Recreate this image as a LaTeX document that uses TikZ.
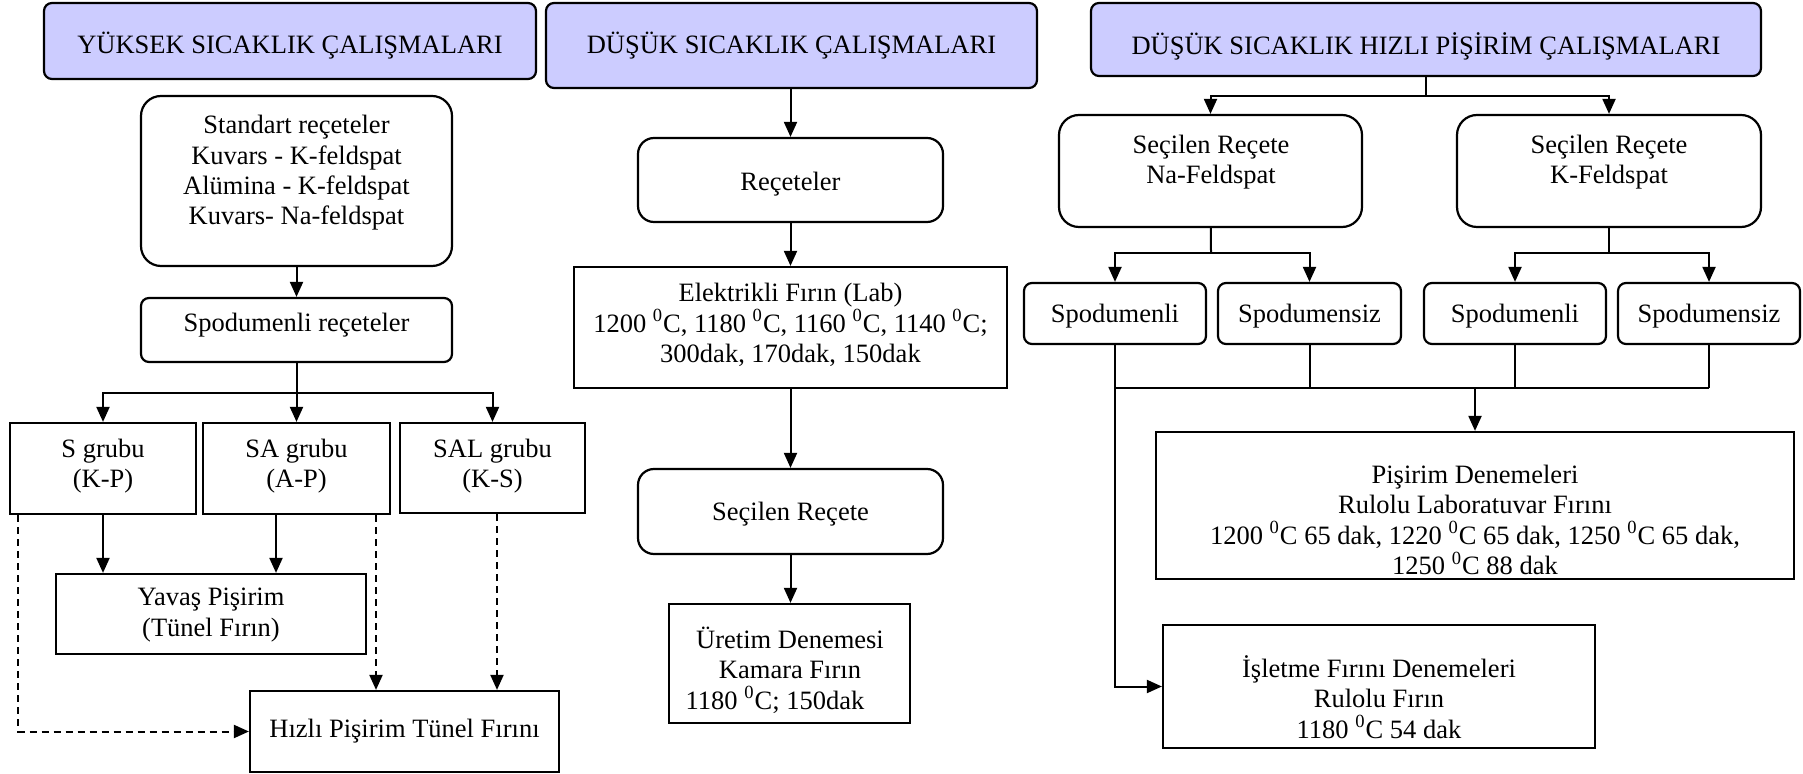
\documentclass[tikz,border=0pt]{standalone}
\usepackage{fontspec}
\setmainfont{Liberation Serif}
\usetikzlibrary{arrows.meta}
\definecolor{hfill}{RGB}{204,204,255}
\tikzset{
  bx/.style={draw, line width=1.1pt, inner sep=0pt},
  hdr/.style={bx, fill=hfill, rounded corners=4pt},
  rbx/.style={bx, rounded corners=#1},
  rbx/.default=8pt,
  txt/.style={inner sep=0pt, align=center, font=\fontsize{13.25}{15.2}\selectfont},
  ln/.style={line width=1pt},
  arr/.style={ln, -{Triangle[width=6.5pt,length=7.5pt]}},
  darr/.style={arr, dash pattern=on 3.5pt off 2.5pt},
}
\newcommand\mkbox[6]{\node[#2, minimum width={(#5-#3)*0.5pt}, minimum height={(#6-#4)*0.5pt}] (#1) at ({(#3+#5)/2},{(#4+#6)/2}) {};}
\newcommand\dg{\textsuperscript{0}}
\begin{document}
\begin{tikzpicture}[x=0.5pt,y=-0.5pt]
\useasboundingbox (0,0) rectangle (1803,774);
% headers
\mkbox{h1}{hdr}{44}{3}{536}{79}
\mkbox{h2}{hdr}{546}{3}{1037}{88}
\mkbox{h3}{hdr}{1091}{3}{1761}{76}
\node[txt] (th1) at (290,46) {YÜKSEK SICAKLIK ÇALIŞMALARI};
\node[txt] (th2) at (791.5,46) {DÜŞÜK SICAKLIK ÇALIŞMALARI};
\node[txt] (th3) at (1426,46) {DÜŞÜK SICAKLIK HIZLI PİŞİRİM ÇALIŞMALARI};
% column 1
\mkbox{std}{rbx=10pt}{141}{96}{452}{266}
\mkbox{spr}{rbx=4pt}{141}{298}{452}{362}
\mkbox{S}{bx}{10}{423}{196}{514}
\mkbox{SA}{bx}{203}{423}{390}{514}
\mkbox{SAL}{bx}{400}{423}{585}{513}
\mkbox{Y}{bx}{56}{574}{366}{654}
\mkbox{H}{bx}{250}{691}{559}{772}
\node[txt] (tstd) at (296.5,173) {Standart reçeteler\\Kuvars - K-feldspat\\Alümina - K-feldspat\\Kuvars- Na-feldspat};
\node[txt] (tspr) at (296.5,325) {Spodumenli reçeteler};
\node[txt] (tS) at (103,466) {S grubu\\(K-P)};
\node[txt] (tSA) at (296.5,466) {SA grubu\\(A-P)};
\node[txt] (tSAL) at (492.5,466) {SAL grubu\\(K-S)};
\node[txt] (tY) at (211,615) {Yavaş Pişirim\\(Tünel Fırın)};
\node[txt] (tH) at (404.5,731) {Hızlı Pişirim Tünel Fırını};
% column 2
\mkbox{rec}{rbx=8pt}{638}{138}{943}{222}
\mkbox{elk}{bx}{574}{267}{1007}{388}
\mkbox{sec}{rbx=8pt}{638}{469}{943}{554}
\mkbox{ure}{bx}{669}{604}{910}{723}
\node[txt] (trec) at (790.5,184) {Reçeteler};
\node[txt] (telk) at (790.5,325) {Elektrikli Fırın (Lab)\\1200 \dg C, 1180 \dg C, 1160 \dg C, 1140 \dg C;\\300dak, 170dak, 150dak};
\node[txt] (tsec) at (790.5,514) {Seçilen Reçete};
\node[txt] (ture) at (790,670) {Üretim Denemesi\\Kamara Fırın\\1180 \dg C; 150dak\hspace*{15pt}};
% column 3
\mkbox{na}{rbx=10pt}{1059}{115}{1362}{227}
\mkbox{kf}{rbx=10pt}{1457}{115}{1761}{227}
\mkbox{sp1}{rbx=4pt}{1024}{283}{1206}{344}
\mkbox{ss1}{rbx=4pt}{1218}{283}{1401}{344}
\mkbox{sp2}{rbx=4pt}{1424}{283}{1606}{344}
\mkbox{ss2}{rbx=4pt}{1618}{283}{1800}{344}
\mkbox{pis}{bx}{1156}{432}{1794}{579}
\mkbox{isl}{bx}{1163}{625}{1595}{748}
\node[txt] (tna) at (1211,162) {Seçilen Reçete\\Na-Feldspat};
\node[txt] (tkf) at (1609,162) {Seçilen Reçete\\K-Feldspat};
\node[txt] (tsp1) at (1115,316) {Spodumenli};
\node[txt] (tss1) at (1309.5,316) {Spodumensiz};
\node[txt] (tsp2) at (1515,316) {Spodumenli};
\node[txt] (tss2) at (1709,316) {Spodumensiz};
\node[txt] (tpis) at (1475,520) {Pişirim Denemeleri\\Rulolu Laboratuvar Fırını\\1200 \dg C 65 dak, 1220 \dg C 65 dak, 1250 \dg C 65 dak,\\1250 \dg C 88 dak};
\node[txt] (tisl) at (1379,697) {İşletme Fırını Denemeleri\\Rulolu Fırın\\1180 \dg C 54 dak};
% connectors column 1
\coordinate (b1) at (296.5,393);
\draw[arr] (std) -- (spr);
\draw[ln] (spr) -- (b1);
\draw[arr] (b1) -| (S);
\draw[arr] (b1) -- (SA);
\draw[arr] (b1) -| (SAL);
\draw[arr] (S.south) -- (S.south |- Y.north);
\draw[arr] (SA.south -| 276,0) -- (276,0 |- Y.north);
\draw[darr] (S.south -| 18,0) |- (H.west);
\draw[darr] (SA.south -| 376,0) -- (376,0 |- H.north);
\draw[darr] (SAL.south -| 497,0) -- (497,0 |- H.north);
% connectors column 2
\draw[arr] (h2.south -| rec) -- (rec);
\draw[arr] (rec) -- (elk);
\draw[arr] (elk) -- (sec);
\draw[arr] (sec.south) -- (sec.south |- ure.north);
% connectors column 3
\coordinate (b3) at (1426,96);
\draw[ln] (h3) -- (b3);
\draw[arr] (b3) -| (na);
\draw[arr] (b3) -| (kf);
\coordinate (b4) at (1211,253);
\draw[ln] (na) -- (b4);
\draw[arr] (b4) -| (sp1);
\draw[arr] (b4) -| (ss1);
\coordinate (b5) at (1609,253);
\draw[ln] (kf) -- (b5);
\draw[arr] (b5) -| (sp2);
\draw[arr] (b5) -| (ss2);
\coordinate (b6) at (1475,388);
\draw[ln] (sp1.south |- b6) -- (ss2.south |- b6);
\draw[ln] (ss1) -- (ss1 |- b6);
\draw[ln] (sp2) -- (sp2 |- b6);
\draw[ln] (ss2) -- (ss2 |- b6);
\draw[arr] (b6) -- (pis);
\draw[arr] (sp1.south) |- (isl.west);
\end{tikzpicture}
\end{document}
